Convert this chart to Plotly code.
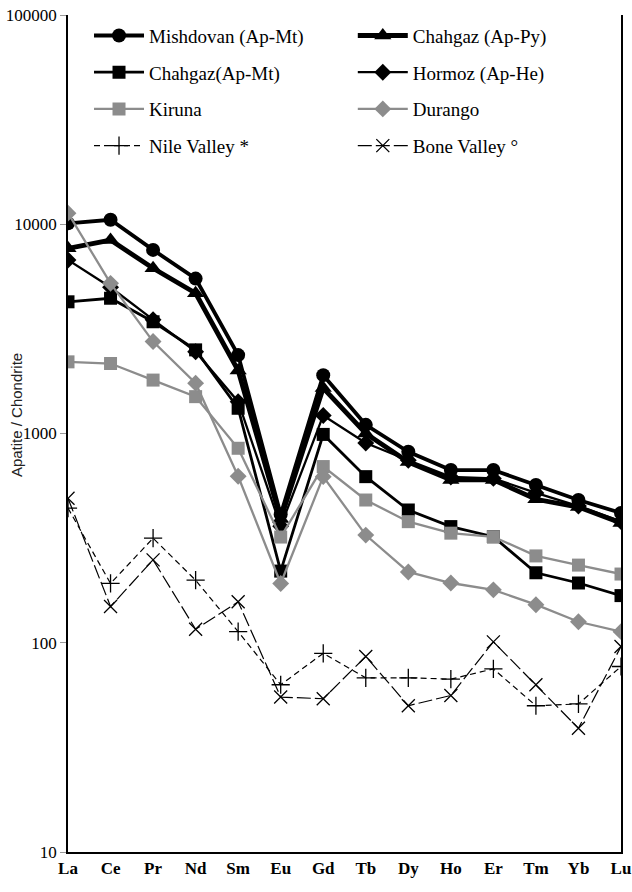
import plotly.graph_objects as go

elements = ["La", "Ce", "Pr", "Nd", "Sm", "Eu", "Gd", "Tb", "Dy", "Ho", "Er", "Tm", "Yb", "Lu"]

mishdovan = [10100, 10500, 7540, 5500, 2370, 410, 1900, 1100, 818, 669, 669, 567, 481, 417]
chahgaz_py = [7670, 8400, 6160, 4680, 2000, 390, 1650, 1000, 730, 600, 600, 485, 445, 374]
chahgaz_mt = [4260, 4430, 3420, 2510, 1320, 220, 990, 622, 431, 359, 321, 216, 193, 168]
hormoz = [6750, 5000, 3500, 2460, 1420, 360, 1220, 900, 745, 620, 610, 520, 450, 380]
kiruna = [2200, 2160, 1800, 1500, 850, 320, 695, 481, 379, 334, 321, 260, 235, 213]
durango = [11300, 5220, 2750, 1740, 625, 192, 622, 327, 218, 193, 179, 152, 126, 113]
nile_valley = [440, 192, 316, 199, 113, 63, 89, 68, 68, 67, 75, 50, 51, 77]
bone_valley = [490, 149, 249, 116, 157, 55, 54, 86, 50, 56, 101, 63, 39, 96]

y_tick_vals = [10, 100, 1000, 10000, 100000]
y_tick_text = ["10", "100", "1000", "10000", "100000"]

GRAY = "#8c8c8c"
series = [
    ("Mishdovan (Ap-Mt)", mishdovan, dict(color="black", width=3.8), dict(symbol="circle", size=14, color="black"), "legend"),
    ("Chahgaz (Ap-Py)", chahgaz_py, dict(color="black", width=4.8), dict(symbol="triangle-up", size=15, color="black"), "legend2"),
    ("Chahgaz(Ap-Mt)", chahgaz_mt, dict(color="black", width=2.8), dict(symbol="square", size=13, color="black"), "legend"),
    ("Hormoz (Ap-He)", hormoz, dict(color="black", width=2.3), dict(symbol="diamond", size=13, color="black"), "legend2"),
    ("Kiruna", kiruna, dict(color=GRAY, width=2.3), dict(symbol="square", size=13, color=GRAY), "legend"),
    ("Durango", durango, dict(color=GRAY, width=2.3), dict(symbol="diamond", size=13, color=GRAY), "legend2"),
    ("Nile Valley *", nile_valley, dict(color="black", width=1.2, dash="6px,4px"),
     dict(symbol="cross-thin", size=13, color="black", line=dict(color="black", width=1.3)), "legend"),
    ("Bone Valley \u00b0", bone_valley, dict(color="black", width=1.2, dash="14px,4px"),
     dict(symbol="x-thin", size=13, color="black", line=dict(color="black", width=1.3)), "legend2"),
]

fig = go.Figure()
for i, (name, vals, line, marker, lg) in enumerate(series):
    fig.add_trace(go.Scatter(x=elements, y=vals, name=name, mode="lines+markers",
                             line=line, marker=marker, legend=lg, legendgroup=f"g{i}"))

leg_common = dict(
    orientation="v", yanchor="top", xanchor="left",
    font=dict(family="Liberation Serif, serif", size=19, color="black"),
    bgcolor="rgba(0,0,0,0)", itemwidth=50, tracegroupgap=9, traceorder="grouped",
)

fig.update_layout(
    width=632, height=892,
    margin=dict(l=68, r=11, t=15, b=40),
    paper_bgcolor="white", plot_bgcolor="white",
    font=dict(family="Liberation Serif, Times New Roman, serif", color="black"),
    legend=dict(x=0.038, y=0.998, **leg_common),
    legend2=dict(x=0.515, y=0.998, **leg_common),
    showlegend=True,
    annotations=[dict(
        text="Apatite / Chondrite", textangle=-90, xref="paper", yref="paper",
        x=-0.094, y=0.522, xanchor="center", yanchor="middle", showarrow=False,
        font=dict(family="Liberation Sans, Arial, sans-serif", size=15, color="#222222"),
    )],
)
fig.update_xaxes(
    type="category", range=[0, 13], showline=True, linecolor="black", linewidth=1.5,
    showgrid=False, ticks="", zeroline=False, automargin=False,
    tickfont=dict(family="Liberation Serif, serif", size=17, color="black", weight="bold"),
)
fig.update_yaxes(
    type="log", range=[1, 5], tickvals=y_tick_vals, ticktext=y_tick_text,
    showline=True, linecolor="black", linewidth=1.5, mirror=True, automargin=False,
    showgrid=False, ticks="outside", ticklen=6, tickcolor="#999999",
    tickfont=dict(family="Liberation Serif, serif", size=17, color="black"),
)

fig.write_html("out.html", config={"displayModeBar": False},
               post_script="document.body.style.margin='0';")
